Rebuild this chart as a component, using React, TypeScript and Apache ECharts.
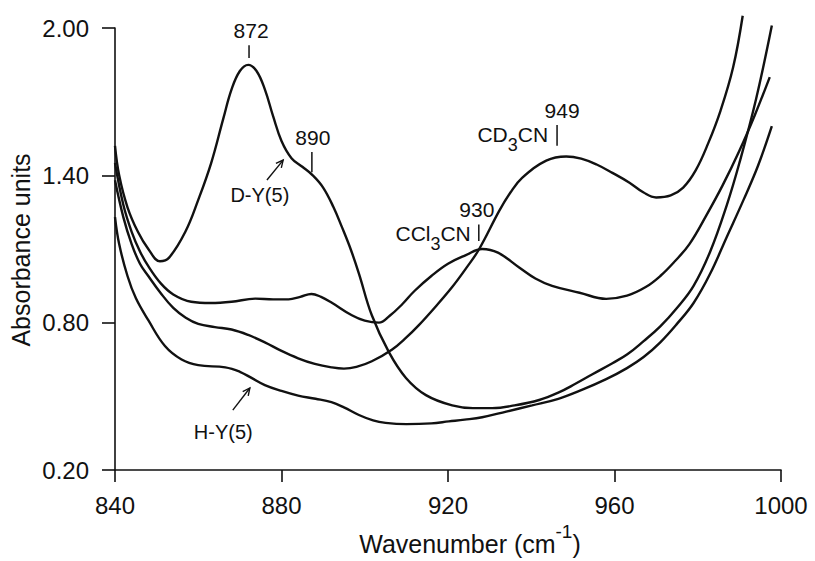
import React, { useEffect, useRef } from "react";
import * as echarts from "echarts";

// ---- data ----
const xTickValues = [840, 880, 920, 960, 1000];
const yTickValues = [0.2, 0.8, 1.4, 2.0];

// D-Y(5) zeolite (tall band at 872)
const dyCurve: number[][] = [
  [840, 1.52], [841, 1.40], [843, 1.27], [845.5, 1.17], [848, 1.10], [850.8, 1.05], [853, 1.065],
  [856.9, 1.17], [860, 1.30], [863.1, 1.45], [866, 1.63], [868, 1.75], [870, 1.825], [872, 1.85],
  [874, 1.825], [876, 1.75], [878, 1.64], [880, 1.54], [882.4, 1.47], [885, 1.435], [887.5, 1.40],
  [890, 1.35], [892.5, 1.27], [894.5, 1.19], [896.6, 1.10], [898.6, 1.00], [901.7, 0.83],
  [905.8, 0.68], [909.9, 0.575], [914.7, 0.505], [921, 0.463], [926, 0.452], [930.6, 0.452],
  [936, 0.463], [941.9, 0.485], [946.5, 0.515], [950.5, 0.55], [954.7, 0.59], [959.5, 0.635],
  [963, 0.67], [967, 0.725], [971, 0.785], [975, 0.86], [979, 0.95], [983, 1.09],
  [987, 1.28], [990, 1.45], [994, 1.71], [997.8, 2.01],
];

// D-Y(5) + CCl3CN (band at 930)
const ccl3cnCurve: number[][] = [
  [840, 1.45], [842, 1.28], [844, 1.17], [846, 1.09], [848, 1.03], [851, 0.96], [854, 0.915],
  [858.3, 0.885], [863, 0.88], [868, 0.885], [873.7, 0.898], [878, 0.895], [881.7, 0.895],
  [884.5, 0.905], [887.2, 0.917], [889.5, 0.905], [892, 0.882], [896.9, 0.83], [900, 0.808],
  [903.4, 0.80], [906, 0.828], [909, 0.875], [912, 0.93], [916, 0.99], [920, 1.04],
  [924.3, 1.075], [928.2, 1.10], [932, 1.085], [937.1, 1.025], [941, 0.98], [945, 0.95],
  [951.6, 0.922], [958, 0.897], [963, 0.91], [967.5, 0.945], [971, 0.99], [974.5, 1.05],
  [978, 1.12], [982, 1.235], [986, 1.36], [990, 1.50], [993.7, 1.645], [997.3, 1.80],
];

// D-Y(5) + CD3CN (band at 949)
const cd3cnCurve: number[][] = [
  [840, 1.38], [842, 1.23], [844, 1.12], [846, 1.04], [848, 0.99], [851, 0.92], [854, 0.86],
  [857, 0.82], [860, 0.795], [864, 0.782], [868, 0.772], [872, 0.75], [876, 0.72], [880, 0.685],
  [884, 0.655], [888, 0.632], [892, 0.618], [895, 0.613], [898, 0.62], [901.7, 0.643],
  [906.5, 0.69], [910, 0.74], [913, 0.79], [917, 0.865], [921, 0.945], [924.5, 1.025],
  [927.5, 1.10], [932.3, 1.255], [935, 1.33], [937.8, 1.39], [943.6, 1.46], [948.4, 1.477],
  [952, 1.468], [955.7, 1.444], [959.5, 1.41], [963.6, 1.37], [967, 1.33], [970, 1.31],
  [973.5, 1.318], [976.5, 1.35], [979.5, 1.42], [982.5, 1.53], [985.5, 1.665], [988.5, 1.84],
  [990.8, 2.05],
];

// H-Y(5) zeolite (lowest trace)
const hyCurve: number[][] = [
  [840, 1.23], [841, 1.12], [843, 0.99], [845, 0.90], [848, 0.81], [852, 0.705], [856, 0.65],
  [860, 0.627], [866.5, 0.618], [870, 0.60], [872.8, 0.575], [876, 0.546], [880, 0.522],
  [884, 0.503], [888.2, 0.49], [892, 0.476], [895, 0.455], [898.6, 0.424], [902, 0.402],
  [905, 0.392], [910, 0.387], [916, 0.39], [920.2, 0.398], [924, 0.405], [928.2, 0.415],
  [934, 0.438], [940.2, 0.463], [946.5, 0.49], [952, 0.525], [958, 0.57], [963, 0.615],
  [967, 0.66], [971, 0.72], [975, 0.795], [979, 0.88], [983, 1.0], [987, 1.15],
  [991, 1.30], [994.5, 1.44], [997.8, 1.60],
];

// peak marker annotations: wavenumber label, tick position (data units)
const peakLabels = ["872", "890", "949", "930"];
const peakTickX = [872.2, 887.3, 946.2, 927.4];
const peakTickYLow = [1.878, 1.413, 1.52, 1.133];
const peakTickYHigh = [1.93, 1.495, 1.605, 1.20];

const FONT = "Liberation Sans";
const INK = "#111";

export default function App() {
  const ref = useRef<HTMLDivElement>(null);

  useEffect(() => {
    if (!ref.current) return;
    const chart = echarts.init(ref.current, null, { renderer: "svg" });
    const lineStyle = { color: INK, width: 2.4 };
    const mk = (name: string, data: number[][]) => ({
      type: "line",
      name,
      data,
      showSymbol: false,
      smooth: 0.4,
      clip: false,
      silent: true,
      lineStyle,
    });
    const axisLineStyle = { color: INK, width: 1.6 };

    chart.setOption({
      animation: false,
      backgroundColor: "#fff",
      grid: { left: 115, right: 34, top: 28, bottom: 91 },
      xAxis: {
        type: "value",
        min: xTickValues[0],
        max: xTickValues[xTickValues.length - 1],
        interval: 40,
        axisLine: { show: true, onZero: false, lineStyle: axisLineStyle },
        axisTick: { show: true, inside: false, length: 12, lineStyle: axisLineStyle },
        axisLabel: {
          fontSize: 24,
          color: INK,
          fontFamily: FONT,
          margin: 23,
          formatter: (v: number) => String(v),
        },
        splitLine: { show: false },
      },
      yAxis: {
        type: "value",
        min: yTickValues[0],
        max: yTickValues[yTickValues.length - 1],
        interval: 0.6,
        axisLine: { show: true, onZero: false, lineStyle: axisLineStyle },
        axisTick: { show: true, inside: false, length: 13, lineStyle: axisLineStyle },
        axisLabel: {
          fontSize: 24,
          color: INK,
          fontFamily: FONT,
          margin: 26,
          formatter: (v: number) => v.toFixed(2),
        },
        splitLine: { show: false },
      },
      series: [
        mk("D-Y(5)", dyCurve),
        mk("CCl3CN", ccl3cnCurve),
        mk("CD3CN", cd3cnCurve),
        mk("H-Y(5)", hyCurve),
      ],
    });

    const P = (x: number, y: number) => chart.convertToPixel({ gridIndex: 0 }, [x, y]) as number[];
    const els: any[] = [];
    const txt = (x: number, y: number, text: string, fontSize: number, align = "center", vAlign = "middle", extra: any = {}) => ({
      type: "text",
      x,
      y,
      silent: true,
      style: { text, fontSize, fontFamily: FONT, fill: INK, align, verticalAlign: vAlign, ...extra },
    });
    const seg = (x1: number, y1: number, x2: number, y2: number, w = 1.5) => ({
      type: "line",
      silent: true,
      shape: { x1, y1, x2, y2 },
      style: { stroke: INK, lineWidth: w },
    });
    const arrow = (x1: number, y1: number, x2: number, y2: number) => {
      const a = Math.atan2(y2 - y1, x2 - x1);
      const L = 8, w = 0.45;
      els.push(seg(x1, y1, x2, y2, 1.4));
      els.push({
        type: "polyline",
        silent: true,
        shape: {
          points: [
            [x2 - L * Math.cos(a - w), y2 - L * Math.sin(a - w)],
            [x2, y2],
            [x2 - L * Math.cos(a + w), y2 - L * Math.sin(a + w)],
          ],
        },
        style: { stroke: INK, lineWidth: 1.4, fill: null },
      });
    };

    // peak tick marks + wavenumber labels
    const labelDx = [2, 1, 5, -2];
    peakLabels.forEach((lab, i) => {
      const lo = P(peakTickX[i], peakTickYLow[i]);
      const hi = P(peakTickX[i], peakTickYHigh[i]);
      els.push(seg(lo[0], lo[1], hi[0], hi[1], 1.5));
      els.push(txt(hi[0] + labelDx[i], hi[1] - 4, lab, 21, "center", "bottom"));
    });

    // CD3CN / CCl3CN names with subscripts
    const rich = {
      a: { fontSize: 21, fontFamily: FONT, fill: INK, color: INK, lineHeight: 22, verticalAlign: "top" },
      s: { fontSize: 18, fontFamily: FONT, fill: INK, color: INK, lineHeight: 30, verticalAlign: "bottom" },
    };
    const cdTick = P(peakTickX[2], (peakTickYLow[2] + peakTickYHigh[2]) / 2);
    els.push(txt(cdTick[0] - 9, cdTick[1] + 4, "{a|CD}{s|3}{a|CN}", 21, "right", "middle", { rich }));
    const ccTick = P(peakTickX[3], (peakTickYLow[3] + peakTickYHigh[3]) / 2);
    els.push(txt(ccTick[0] - 8, ccTick[1] + 5, "{a|CCl}{s|3}{a|CN}", 21, "right", "middle", { rich }));

    // D-Y(5) label and arrow
    const dyTail = P(876.5, 1.381);
    const dyHead = P(880.4, 1.462);
    arrow(dyTail[0], dyTail[1], dyHead[0], dyHead[1]);
    const dyLab = P(874.8, 1.318);
    els.push(txt(dyLab[0], dyLab[1], "D-Y(5)", 20));

    // H-Y(5) label and arrow
    const hyTail = P(868.3, 0.444);
    const hyHead = P(872.4, 0.534);
    arrow(hyTail[0], hyTail[1], hyHead[0], hyHead[1]);
    const hyLab = P(866, 0.355);
    els.push(txt(hyLab[0], hyLab[1], "H-Y(5)", 20));

    // axis titles
    els.push({
      type: "text",
      x: 21,
      y: 250,
      rotation: Math.PI / 2,
      silent: true,
      style: { text: "Absorbance units", fontSize: 25, fontFamily: FONT, fill: INK, align: "center", verticalAlign: "middle" },
    });
    els.push({
      type: "text",
      x: 470,
      y: 539,
      silent: true,
      style: {
        text: "{b|Wavenumber (cm}{p|-1}{b|)}",
        fontSize: 25,
        fontFamily: FONT,
        fill: INK,
        align: "center",
        verticalAlign: "middle",
        rich: {
          b: { fontSize: 25, fontFamily: FONT, fill: INK, color: INK, lineHeight: 34, verticalAlign: "bottom" },
          p: { fontSize: 19, fontFamily: FONT, fill: INK, color: INK, lineHeight: 22, verticalAlign: "top" },
        },
      },
    });

    chart.setOption({ graphic: { elements: els } });

    return () => chart.dispose();
  }, []);

  return (
    <div
      ref={ref}
      style={{ position: "fixed", left: 0, top: 0, width: 815, height: 561, background: "#fff" }}
    />
  );
}
